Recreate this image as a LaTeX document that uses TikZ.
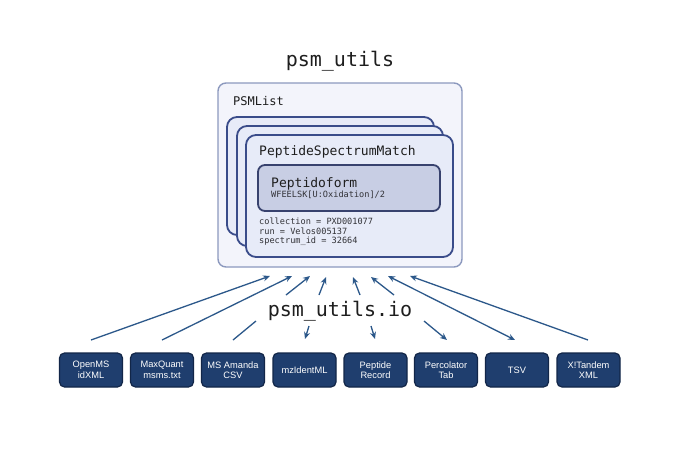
\documentclass[tikz,border=0pt]{standalone}
\usepackage{fontspec}
\setmonofont{DejaVu Sans Mono}
\setsansfont{Liberation Sans}
\usetikzlibrary{arrows.meta,calc}
\definecolor{outerfill}{RGB}{243,244,251}
\definecolor{outerline}{RGB}{140,153,190}
\definecolor{cardfill}{RGB}{231,235,248}
\definecolor{cardline}{RGB}{58,76,138}
\definecolor{pfill}{RGB}{200,206,228}
\definecolor{pline}{RGB}{56,66,110}
\definecolor{fmtfill}{RGB}{31,62,110}
\definecolor{fmtline}{RGB}{18,38,72}
\definecolor{arrowc}{RGB}{44,88,138}
\definecolor{txt}{RGB}{30,30,30}
\definecolor{subtxt}{RGB}{50,50,55}
\tikzset{
  outerbox/.style={draw=outerline, fill=outerfill, line width=1.4pt, rounded corners=8pt},
  cardbox/.style={draw=cardline, fill=cardfill, line width=1.8pt, rounded corners=10pt},
  pbox/.style={draw=pline, fill=pfill, line width=1.8pt, rounded corners=7pt},
  fmt/.style={draw=fmtline, fill=fmtfill, rounded corners=5pt, line width=1.2pt,
    minimum width=63pt, minimum height=34pt, inner sep=0pt, text=white,
    font=\sffamily\fontsize{9.3}{10.5}\selectfont, align=center},
  lbl/.style={inner sep=0pt, text=txt},
  small/.style={inner sep=0pt, text=subtxt, anchor=base west, font=\ttfamily\fontsize{8.6}{10}\selectfont},
  conn/.style={draw=arrowc, line width=1.3pt, >={Stealth[length=7pt,width=6pt]}},
}
\begin{document}
\begin{tikzpicture}[x=1pt,y=-1pt]
\useasboundingbox[fill=white] (0,0) rectangle (680,453);

% PSMList container
\draw[outerbox] (218,83) rectangle (462,267);
\node[lbl, anchor=base west, font=\ttfamily\fontsize{12}{14}\selectfont] (psmlist) at (233,105) {PSMList};

% stacked cards
\draw[cardbox] (227,117) rectangle (434,235);
\draw[cardbox] (237,126) rectangle (443,246);
\draw[cardbox] (246,135) rectangle (453,257);
\node[lbl, anchor=base west, font=\ttfamily\fontsize{13}{15}\selectfont] (psm) at (259,155) {PeptideSpectrumMatch};

% peptidoform
\draw[pbox] (258,165) rectangle (440,211);
\node[lbl, anchor=base west, font=\ttfamily\fontsize{13}{15}\selectfont] (pf) at (271,187) {Peptidoform};
\node[small] (pfseq) at (271,197.5) {WFEELSK[U:Oxidation]/2};

\node[small] (coll) at (259,224.5) {collection = PXD001077};
\node[small] (run) at (259,234) {run = Velos005137};
\node[small] (sid) at (259,243.5) {spectrum\_id = 32664};

% titles
\node[lbl, anchor=base, font=\ttfamily\fontsize{20}{24}\selectfont] (title) at (340,66) {psm\_utils};
\node[lbl, anchor=base, font=\ttfamily\fontsize{20}{24}\selectfont] (io) at (340,316) {psm\_utils.io};

% format boxes
\node[fmt] (openms) at (91,370) {OpenMS\\idXML};
\node[fmt] (maxquant) at (162,370) {MaxQuant\\msms.txt};
\node[fmt] (msamanda) at (233,370) {MS Amanda\\CSV};
\node[fmt] (mzid) at (304.5,370) {mzIdentML};
\node[fmt] (peprec) at (375.5,370) {Peptide\\Record};
\node[fmt] (perc) at (446,370) {Percolator\\Tab};
\node[fmt] (tsv) at (517,370) {TSV};
\node[fmt] (xtandem) at (588.5,370) {X!Tandem\\XML};

% connector end points
\coordinate (b1) at (91,340);   \coordinate (t1) at (270,276);
\coordinate (b2) at (162,340);  \coordinate (t2) at (292,276);
\coordinate (b3) at (233,340);  \coordinate (b3u) at (256,321);
\coordinate (t3l) at (286,295); \coordinate (t3) at (310,276);
\coordinate (b4) at (305,339);  \coordinate (b4u) at (309,326);
\coordinate (t4l) at (319,295); \coordinate (t4) at (326,277);
\coordinate (b5) at (375,339);  \coordinate (b5u) at (371,326);
\coordinate (t5l) at (360,295); \coordinate (t5) at (353,277);
\coordinate (b6) at (447,340);  \coordinate (b6u) at (424,321);
\coordinate (t6l) at (394,295); \coordinate (t6) at (371,277);
\coordinate (b7) at (515,340);  \coordinate (t7) at (388,276);
\coordinate (b8) at (588,340);  \coordinate (t8) at (410,276);

\draw[conn,->] (b1) -- (t1);
\draw[conn,->] (b2) -- (t2);
\draw[conn] (b3) -- (b3u);
\draw[conn,->] (t3l) -- (t3);
\draw[conn,->] (b4u) -- (b4);
\draw[conn,->] (t4l) -- (t4);
\draw[conn,->] (b5u) -- (b5);
\draw[conn,->] (t5l) -- (t5);
\draw[conn,->] (b6u) -- (b6);
\draw[conn,->] (t6l) -- (t6);
\draw[conn,<->] (b7) -- (t7);
\draw[conn,->] (b8) -- (t8);
\end{tikzpicture}
\end{document}
